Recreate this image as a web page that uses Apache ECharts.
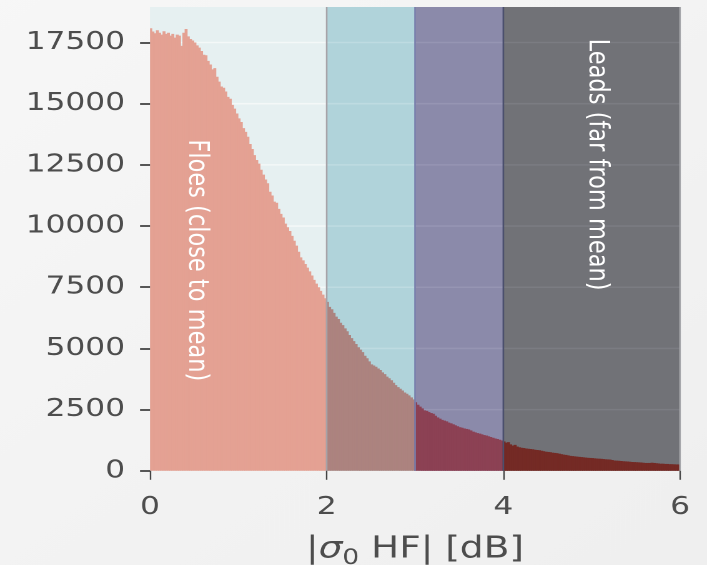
<!DOCTYPE html>
<html>
<head>
<meta charset="utf-8">
<script src="https://cdn.jsdelivr.net/npm/echarts@6/dist/echarts.min.js"></script>
<style>
  html, body { margin: 0; padding: 0; background: #f3f3f3; overflow: hidden; }
  /* the figure is drawn narrow, then widened to fill the window */
  #chart { width: 566px; height: 565px; transform: scaleX(1.2491); transform-origin: 0 0; }
</style>
</head>
<body>
<div id="chart"></div>
<script>
// Histogram of |sigma0 HF| in bins of 0.025 dB, starting at 0
const binStart = 0;
const binWidth = 0.025;
const counts = [
  18080, 17950, 17880, 18000, 17900, 17820, 17960, 17850, 17900, 17780,
  17850, 17700, 17820, 17780, 17360, 17900, 18050, 17750, 17640, 17580,
  17500, 17380, 17290, 17150, 17000, 16980, 16750, 16600, 16400, 16450,
  16100, 15900, 15700, 15650, 15500, 15280, 15200, 14950, 14800, 14600,
  14400, 14250, 14000, 13850, 13650, 13350, 13150, 12900, 12700, 12550,
  12300, 12100, 11900, 11750, 11400, 11250, 11000, 10950, 10700, 10500,
  10350, 10100, 9950, 9800, 9600, 9400, 9200, 8950, 8720, 8600,
  8450, 8300, 8150, 7980, 7800, 7650, 7500, 7350, 7200, 7050,
  6900, 6700, 6600, 6450, 6300, 6200, 6050, 5950, 5820, 5700,
  5550, 5420, 5300, 5180, 5050, 4950, 4850, 4700, 4600, 4470,
  4350, 4300, 4250, 4180, 4120, 4020, 3950, 3850, 3780, 3700,
  3600, 3500, 3420, 3350, 3280, 3200, 3150, 3080, 3000, 2920,
  2800, 2700, 2620, 2550, 2470, 2450, 2400, 2360, 2330, 2250,
  2180, 2130, 2080, 2050, 2020, 1970, 1940, 1900, 1860, 1820,
  1780, 1760, 1730, 1710, 1690, 1650, 1600, 1570, 1540, 1520,
  1490, 1460, 1440, 1410, 1380, 1350, 1320, 1300, 1270, 1240,
  1200, 1150, 1170, 1080, 1030, 1060, 990, 960, 940, 930,
  910, 900, 890, 880, 860, 850, 840, 820, 800, 780,
  770, 760, 740, 730, 720, 700, 680, 660, 650, 630,
  610, 600, 590, 580, 570, 560, 550, 540, 530, 525,
  520, 510, 500, 495, 490, 480, 470, 465, 460, 440,
  420, 415, 410, 400, 390, 385, 380, 370, 360, 355,
  350, 345, 340, 330, 320, 320, 320, 330, 320, 310,
  300, 290, 290, 280, 280, 270, 270, 265, 260, 260
];

// Shaded ranges of |sigma0 HF| (dB)
const bandEdges = [0, 2, 3, 4, 6];
const bandFills = ['#e6f0f1', '#b0d3da', '#8b8aaa', '#717277'];
const barFills = ['#e4a193', '#ac837f', '#8c4154', '#742a25'];
const gridTints = ['#f4f8f8', '#bedbe1', '#9695b3', '#7b7c82'];

// Range boundaries drawn as thin vertical rules
const ruleX = [2, 3, 4, 6];
const ruleColors = ['#a7a3a8', '#7a80ad', '#4b4f6d', '#a3a4a8'];

// Axis ticks
const xTicks = [0, 2, 4, 6];
const yTicks = [0, 2500, 5000, 7500, 10000, 12500, 15000, 17500];
const yMax = 18950;

// Annotations
const noteText = ['Floes (close to mean)', 'Leads (far from mean)'];
const noteX = [0.53, 5.06];
const noteY = [8600, 12510];

function bandOf(x) {
  for (let i = bandEdges.length - 2; i >= 0; i--) {
    if (x >= bandEdges[i] - 1e-9) return i;
  }
  return 0;
}

const bandData = bandFills.map((c, i) => [bandEdges[i], bandEdges[i + 1], i]);
const histData = counts.map((v, i) => {
  const x0 = +(binStart + i * binWidth).toFixed(4);
  return [x0, +(x0 + binWidth).toFixed(4), v];
});
const ruleData = ruleX.map((x, i) => [x, i]);
const noteData = noteText.map((t, i) => [noteX[i], noteY[i], i]);

const chart = echarts.init(document.getElementById('chart'), null, { renderer: 'canvas', devicePixelRatio: 2 });

const tickColor = '#444444';
const labelColor = '#4d4d4d';

chart.setOption({
  animation: false,
  backgroundColor: {
    type: 'linear', x: 0, y: 0, x2: 1, y2: 1,
    colorStops: [{ offset: 0, color: '#f7f7f7' }, { offset: 1, color: '#efefef' }]
  },
  grid: { left: 120.1, right: 21.6, top: 7, bottom: 94.2, containLabel: false, outerBoundsMode: 'none' },
  xAxis: {
    type: 'value',
    min: xTicks[0],
    max: xTicks[xTicks.length - 1],
    interval: 2,
    axisLine: { show: false },
    axisTick: { show: true, length: 9, lineStyle: { color: tickColor, width: 1.2 } },
    splitLine: { show: false },
    axisLabel: {
      customValues: xTicks,
      formatter: function (v) { return String(v); },
      fontFamily: 'DejaVu Sans', fontSize: 25, color: labelColor, margin: 24
    },
    name: '{n||}{s|σ}{sub|0}{n| HF| [dB]}',
    nameLocation: 'middle',
    nameGap: 60,
    nameTextStyle: {
      rich: {
        n: { fontFamily: 'DejaVu Sans', fontSize: 30, color: labelColor, lineHeight: 38 },
        s: { fontFamily: 'DejaVu Sans', fontStyle: 'italic', fontSize: 30, color: labelColor, lineHeight: 38 },
        sub: { fontFamily: 'DejaVu Sans', fontSize: 21, color: labelColor, lineHeight: 38, verticalAlign: 'bottom' }
      }
    },
    z: 6
  },
  yAxis: {
    type: 'value',
    min: 0,
    max: yMax,
    interval: 2500,
    axisLine: { show: false },
    axisTick: { show: true, customValues: yTicks, length: 8, lineStyle: { color: tickColor, width: 1.8 } },
    splitLine: { show: false },
    axisLabel: {
      customValues: yTicks,
      formatter: function (v) { return String(v); },
      fontFamily: 'DejaVu Sans', fontSize: 25, color: labelColor, margin: 20
    },
    z: 6
  },
  series: [
    {
      // shaded ranges with their own horizontal grid lines
      type: 'custom',
      z: 1,
      data: bandData,
      encode: { x: [0, 1] },
      renderItem: function (params, api) {
        const i = api.value(2);
        const x0 = api.value(0), x1 = api.value(1);
        const tl = api.coord([x0, yMax]);
        const br = api.coord([x1, 0]);
        const children = [{
          type: 'rect',
          shape: { x: tl[0], y: tl[1], width: br[0] - tl[0], height: br[1] - tl[1] },
          style: { fill: bandFills[i] }
        }];
        yTicks.forEach(function (t) {
          if (t <= 0) return;
          const y = api.coord([x0, t])[1];
          children.push({
            type: 'line',
            shape: { x1: tl[0], y1: y, x2: br[0], y2: y },
            style: { stroke: gridTints[i], lineWidth: 1.6 }
          });
        });
        return { type: 'group', children: children };
      }
    },
    {
      // histogram bars; each bar tucks slightly under its left neighbour's edge to avoid seams
      type: 'custom',
      z: 3,
      data: histData,
      encode: { x: [0, 1], y: 2 },
      renderItem: function (params, api) {
        const x0 = api.value(0), x1 = api.value(1), v = api.value(2);
        const tl = api.coord([x0, v]);
        const br = api.coord([x1, 0]);
        const lap = x0 > 0 ? 0.6 : 0;
        const c = barFills[bandOf(x0)];
        return {
          type: 'rect',
          shape: { x: tl[0] - lap, y: tl[1], width: br[0] - tl[0] + lap, height: br[1] - tl[1] },
          style: { fill: c }
        };
      }
    },
    {
      // range boundaries
      type: 'custom',
      z: 4,
      data: ruleData,
      encode: { x: 0 },
      renderItem: function (params, api) {
        const x = api.value(0), i = api.value(1);
        const top = api.coord([x, yMax]);
        const bot = api.coord([x, 0]);
        return {
          type: 'line',
          shape: { x1: top[0], y1: top[1], x2: bot[0], y2: bot[1] },
          style: { stroke: ruleColors[i], lineWidth: 1.3 }
        };
      }
    },
    {
      // vertical annotations
      type: 'custom',
      z: 5,
      data: noteData,
      encode: { x: 0, y: 1 },
      renderItem: function (params, api) {
        const i = api.value(2);
        const p = api.coord([api.value(0), api.value(1)]);
        return {
          type: 'text',
          x: p[0], y: p[1],
          rotation: -Math.PI / 2,
          style: {
            text: noteText[i],
            fill: '#ffffff',
            font: '22.5px "DejaVu Sans"',
            align: 'center',
            verticalAlign: 'middle'
          }
        };
      }
    }
  ]
});
</script>
</body>
</html>
